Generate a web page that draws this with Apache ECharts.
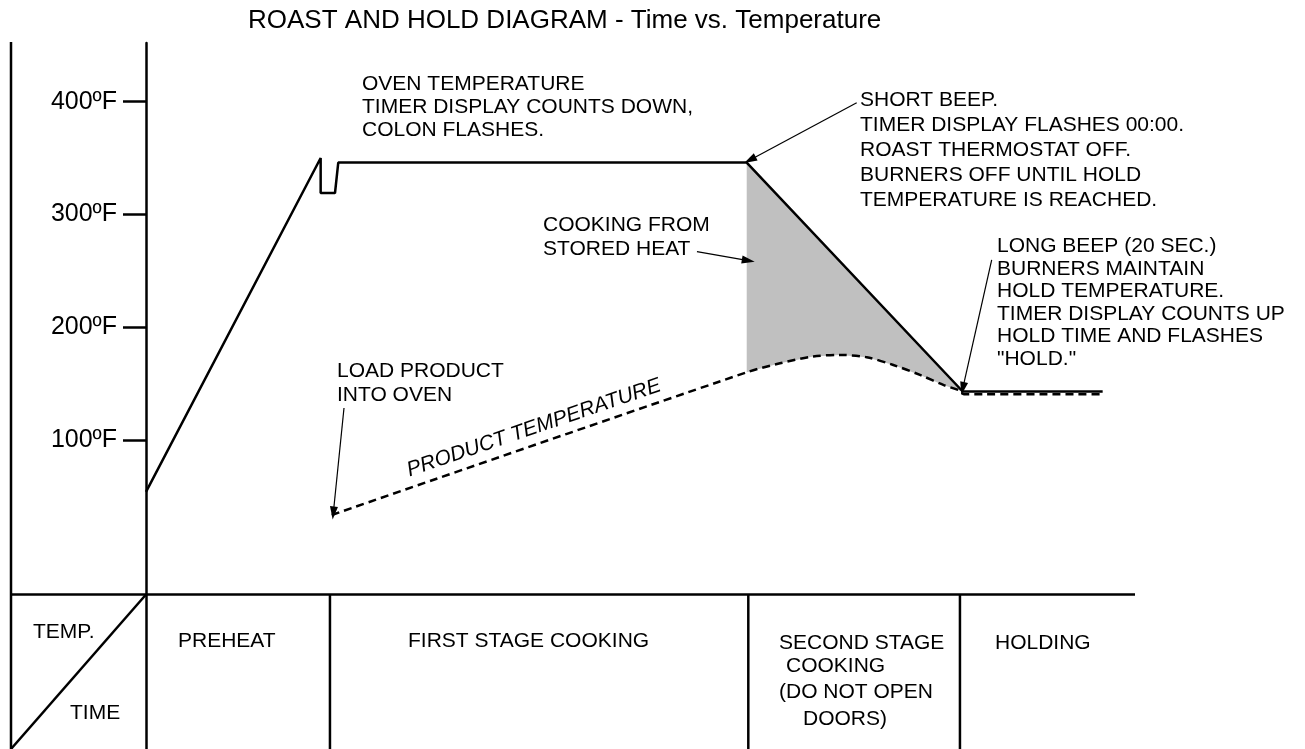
<!DOCTYPE html>
<html>
<head>
<meta charset="utf-8">
<title>Roast and Hold Diagram</title>
<script src="https://cdn.jsdelivr.net/npm/echarts@6/dist/echarts.min.js"></script>
<style>
html, body { margin: 0; padding: 0; background: #fff; }
#chart { width: 1305px; height: 749px; }
</style>
</head>
<body>
<div id="chart"></div>
<script>
// time runs 0..100 across the diagram (arbitrary units), temperatures in ºF
const ovenTime = [0, 17.66, 17.66, 19.11, 19.44, 60.74, 82.58, 96.73]
const ovenTemp = [54, 350, 319, 319, 346, 346, 143, 143]

const productTime = [18.78, 60.74, 64.1, 67.47, 70.17, 72.87, 75.56, 78.26, 80.62, 82.3, 82.7, 96.73]
const productTemp = [33.5, 160, 168, 174, 175.4, 173.4, 166.5, 157.7, 148.8, 143.7, 140.5, 140.5]

const tempTicks = [100, 200, 300, 400]
const stageEdges = [18.6, 60.9, 82.3]
const tableTopTemp = -37

// annotation arrows: [time, temp] start -> end
const arrowFrom = [[71.86, 399], [55.71, 267], [20.02, 128.4], [85.51, 259.6]]
const arrowTo = [[61.07, 348.3], [60.9, 259], [18.94, 35.3], [82.58, 145.6]]

const FONT = "'Liberation Sans', Arial, Helvetica, sans-serif"

const chart = echarts.init(document.getElementById('chart'))

const pairs = (xs, ys) => xs.map((x, i) => [x, ys[i]])

chart.setOption({
  animation: false,
  title: {
    text: 'ROAST AND HOLD DIAGRAM - Time vs. Temperature',
    left: 243,
    top: 3,
    textStyle: { fontFamily: FONT, fontSize: 26, fontWeight: 'normal', color: '#000' }
  },
  grid: { left: 146, right: 170, top: 43, bottom: 0 },
  xAxis: { type: 'value', min: 0, max: 100, show: false },
  yAxis: {
    type: 'value',
    min: -174,
    max: 452,
    axisLine: { show: true, lineStyle: { color: '#000', width: 2.5 } },
    axisTick: { show: true, length: 23, customValues: tempTicks, lineStyle: { color: '#000', width: 2.5 } },
    axisLabel: {
      customValues: tempTicks,
      formatter: v => v + 'ºF',
      margin: 29,
      fontSize: 25,
      color: '#000',
      fontFamily: FONT
    },
    splitLine: { show: false }
  },
  series: [
    {
      // cooking from stored heat: area between oven drop and product curve
      type: 'custom',
      z: 1,
      silent: true,
      data: [[0, 0]],
      renderItem: (params, api) => {
        const lo = stageEdges[1] - 0.3
        const hi = stageEdges[2] + 0.3
        const top = pairs(ovenTime, ovenTemp).filter(p => p[0] >= lo && p[0] <= hi)
        const bottom = pairs(productTime, productTemp).filter(p => p[0] >= lo && p[0] <= hi).reverse()
        return {
          type: 'polygon',
          shape: { points: top.concat(bottom).map(p => api.coord(p)) },
          style: { fill: '#c0c0c0', stroke: null }
        }
      }
    },
    {
      name: 'Oven temperature',
      type: 'line',
      z: 3,
      data: pairs(ovenTime, ovenTemp),
      showSymbol: false,
      lineStyle: { color: '#000', width: 2.5 },
      markLine: {
        silent: true,
        symbol: ['none', 'triangle'],
        symbolSize: [8, 13],
        label: { show: false },
        lineStyle: { color: '#000', width: 1.2, type: 'solid' },
        data: arrowFrom.map((f, i) => [{ coord: f }, { coord: arrowTo[i] }])
      }
    },
    {
      name: 'Product temperature',
      type: 'line',
      z: 2,
      smooth: 0.3,
      data: pairs(productTime, productTemp),
      showSymbol: false,
      lineStyle: { color: '#000', width: 2.5, type: [8, 5] }
    }
  ]
})

const px = (t, T) => chart.convertToPixel({ gridIndex: 0 }, [t, T])
const topY = px(0, tableTopTemp)[1]
const axisX = px(0, tableTopTemp)[0]
const lineStyle = { stroke: '#000', lineWidth: 2.5 }

const textEl = (text, x, y, lh, extra) => ({
  type: 'text',
  x: x,
  y: y,
  silent: true,
  style: Object.assign({
    text: text,
    fill: '#000',
    fontFamily: FONT,
    fontSize: 21,
    lineHeight: lh,
    align: 'left',
    verticalAlign: 'top'
  }, extra || {})
})

chart.setOption({
  graphic: [
    // table grid
    { type: 'line', silent: true, shape: { x1: 11, y1: topY, x2: px(100, tableTopTemp)[0], y2: topY }, style: lineStyle },
    { type: 'line', silent: true, shape: { x1: 11, y1: 42, x2: 11, y2: 749 }, style: lineStyle },
    { type: 'line', silent: true, shape: { x1: 11, y1: 749, x2: axisX, y2: topY }, style: lineStyle },
    ...stageEdges.map(t => ({
      type: 'line', silent: true,
      shape: { x1: px(t, 0)[0], y1: topY, x2: px(t, 0)[0], y2: 749 },
      style: lineStyle
    })),
    // table labels
    textEl('TEMP.', 33, 622, 21),
    textEl('TIME', 70, 703, 21),
    textEl('PREHEAT', 178, 631, 21),
    textEl('FIRST STAGE COOKING', 408, 631, 21),
    textEl('SECOND STAGE', 779, 633, 21),
    textEl('COOKING', 786, 656, 21),
    textEl('(DO NOT OPEN', 779, 682, 21),
    textEl('DOORS)', 803, 709, 21),
    textEl('HOLDING', 995, 633, 21),
    // annotations
    textEl('OVEN TEMPERATURE\nTIMER DISPLAY COUNTS DOWN,\nCOLON FLASHES.', 362, 73, 23),
    textEl('SHORT BEEP.\nTIMER DISPLAY FLASHES 00:00.\nROAST THERMOSTAT OFF.\nBURNERS OFF UNTIL HOLD\nTEMPERATURE IS REACHED.', 860, 88, 25),
    textEl('COOKING FROM\nSTORED HEAT', 543, 213, 24),
    textEl('LOAD PRODUCT\nINTO OVEN', 337, 359, 24),
    textEl('LONG BEEP (20 SEC.)\nBURNERS MAINTAIN\nHOLD TEMPERATURE.\nTIMER DISPLAY COUNTS UP\nHOLD TIME AND FLASHES\n"HOLD."', 997, 235, 22.5),
    {
      type: 'text', x: 534, y: 428, rotation: 0.328, silent: true,
      style: {
        text: 'PRODUCT TEMPERATURE', fill: '#000', fontFamily: FONT, fontSize: 21,
        fontStyle: 'italic', align: 'center', verticalAlign: 'middle'
      }
    }
  ]
})
</script>
</body>
</html>
